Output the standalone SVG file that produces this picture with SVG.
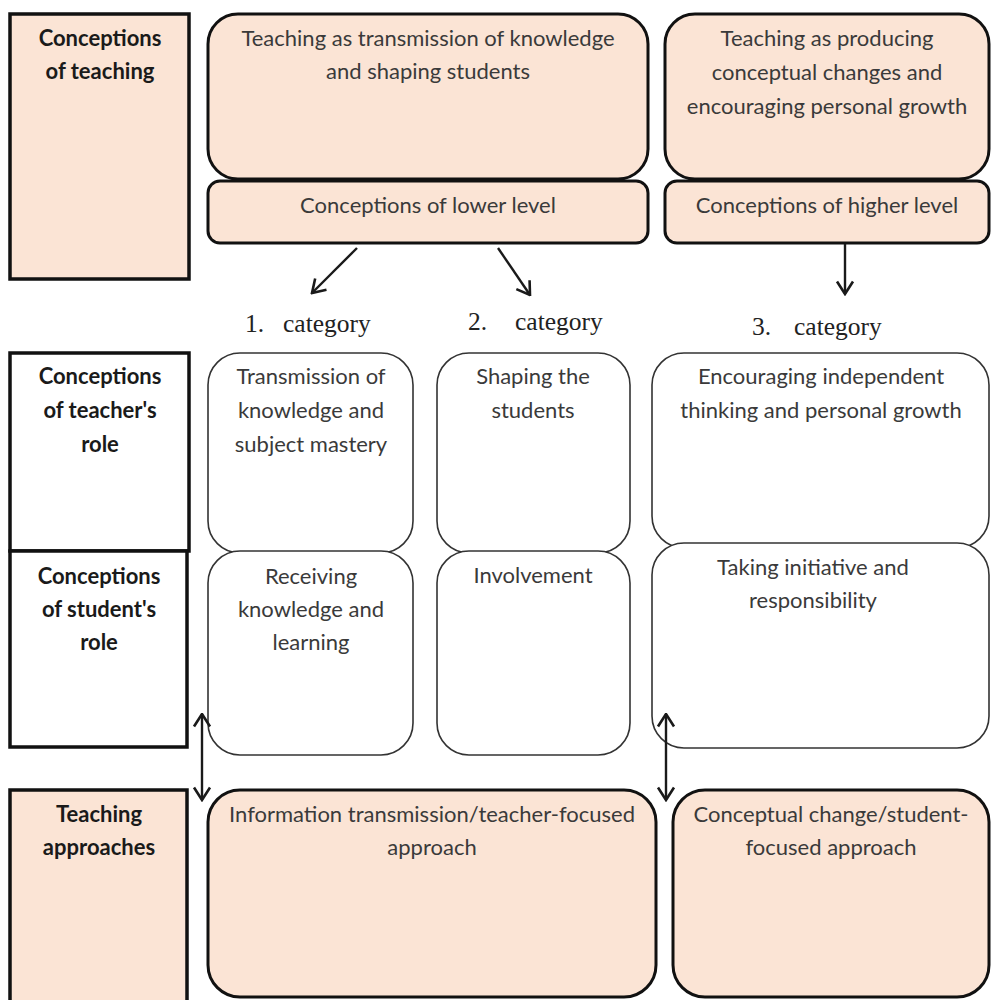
<svg xmlns="http://www.w3.org/2000/svg" width="991" height="1000" viewBox="0 0 991 1000">
<defs>
<style>
.peach{fill:#FBE4D5;stroke:#111;stroke-width:3}
.label{fill:#FBE4D5;stroke:#111;stroke-width:3.5}
.wlabel{fill:#fff;stroke:#111;stroke-width:3.5}
.thin{fill:#fff;stroke:#333;stroke-width:1.6}
text{font-family:Lato,"Liberation Sans",sans-serif;font-size:22px;fill:#3a3a3a;text-anchor:middle}
.b{font-weight:bold;fill:#1a1a1a}
.cat{font-family:"Liberation Serif","Times New Roman",serif;font-size:25.5px;fill:#222;text-anchor:start}
.arr{stroke:#1a1a1a;stroke-width:2.4;fill:none}
</style>
<marker id="head" viewBox="0 0 16 20" refX="14.5" refY="10" markerWidth="16" markerHeight="20" markerUnits="userSpaceOnUse" orient="auto-start-reverse">
<polyline points="2,2 14.5,10 2,18" fill="none" stroke="#1a1a1a" stroke-width="2.6" stroke-linejoin="miter"/>
</marker>
</defs>
<rect width="991" height="1000" fill="#fff"/>

<g id="label-conceptions-teaching">
<rect class="label" x="10" y="14" width="179" height="265"/>
<text class="b" x="100" y="46">Conceptions</text>
<text class="b" x="100" y="79">of teaching</text>
</g>

<g id="teaching-transmission">
<rect class="peach" x="208" y="14" width="440" height="165" rx="30"/>
<text x="428" y="46">Teaching as transmission of knowledge</text>
<text x="428" y="79">and shaping students</text>
</g>

<g id="lower-level">
<rect class="peach" x="208" y="181" width="440" height="62" rx="12"/>
<text x="428" y="213">Conceptions of lower level</text>
</g>

<g id="teaching-producing">
<rect class="peach" x="665" y="14" width="324" height="165" rx="30"/>
<text x="827" y="46">Teaching as producing</text>
<text x="827" y="80">conceptual changes and</text>
<text x="827" y="114">encouraging personal growth</text>
</g>

<g id="higher-level">
<rect class="peach" x="665" y="181" width="324" height="62" rx="12"/>
<text x="827" y="213">Conceptions of higher level</text>
</g>

<g id="categories">
<text class="cat" x="245" y="332">1.</text>
<text class="cat" x="283" y="332">category</text>
<text class="cat" x="468" y="330">2.</text>
<text class="cat" x="515" y="330">category</text>
<text class="cat" x="752" y="335">3.</text>
<text class="cat" x="794" y="335">category</text>
</g>

<g id="label-teacher-role">
<rect class="wlabel" x="10" y="353" width="179" height="198"/>
<text class="b" x="100" y="384">Conceptions</text>
<text class="b" x="100" y="418">of teacher's</text>
<text class="b" x="100" y="452">role</text>
</g>

<g id="label-student-role">
<rect class="wlabel" x="10" y="551" width="177" height="196"/>
<text class="b" x="99" y="584">Conceptions</text>
<text class="b" x="99" y="617">of student's</text>
<text class="b" x="99" y="650">role</text>
</g>

<g id="teacher-cat1">
<rect class="thin" x="208" y="353" width="205" height="200" rx="32"/>
<text x="311" y="384">Transmission of</text>
<text x="311" y="418">knowledge and</text>
<text x="311" y="452">subject mastery</text>
</g>

<g id="student-cat1">
<rect class="thin" x="208" y="551" width="205" height="204" rx="32"/>
<text x="311" y="584">Receiving</text>
<text x="311" y="617">knowledge and</text>
<text x="311" y="650">learning</text>
</g>

<g id="teacher-cat2">
<rect class="thin" x="437" y="353" width="193" height="200" rx="32"/>
<text x="533" y="384">Shaping the</text>
<text x="533" y="418">students</text>
</g>

<g id="student-cat2">
<rect class="thin" x="437" y="551" width="193" height="204" rx="32"/>
<text x="533" y="583">Involvement</text>
</g>

<g id="teacher-cat3">
<rect class="thin" x="652" y="353" width="337" height="195" rx="32"/>
<text x="821" y="384">Encouraging independent</text>
<text x="821" y="418">thinking and personal growth</text>
</g>

<g id="student-cat3">
<rect class="thin" x="652" y="543" width="337" height="205" rx="32"/>
<text x="813" y="575">Taking initiative and</text>
<text x="813" y="608">responsibility</text>
</g>

<g id="label-teaching-approaches">
<rect class="label" x="10" y="790" width="177" height="215"/>
<text class="b" x="99" y="822">Teaching</text>
<text class="b" x="99" y="855">approaches</text>
</g>

<g id="approach-teacher">
<rect class="peach" x="208" y="790" width="448" height="207" rx="32"/>
<text x="432" y="822">Information transmission/teacher-focused</text>
<text x="432" y="855">approach</text>
</g>

<g id="approach-student">
<rect class="peach" x="673" y="790" width="316" height="207" rx="32"/>
<text x="831" y="822">Conceptual change/student-</text>
<text x="831" y="855">focused approach</text>
</g>

<g id="connectors">
<line class="arr" x1="357" y1="248" x2="312" y2="293" marker-end="url(#head)"/>
<line class="arr" x1="498" y1="248" x2="530" y2="295" marker-end="url(#head)"/>
<line class="arr" x1="845" y1="244" x2="845" y2="294" marker-end="url(#head)"/>
<line class="arr" x1="202" y1="714" x2="202" y2="800" marker-start="url(#head)" marker-end="url(#head)"/>
<line class="arr" x1="666" y1="714" x2="666" y2="800" marker-start="url(#head)" marker-end="url(#head)"/>
</g>
</svg>
